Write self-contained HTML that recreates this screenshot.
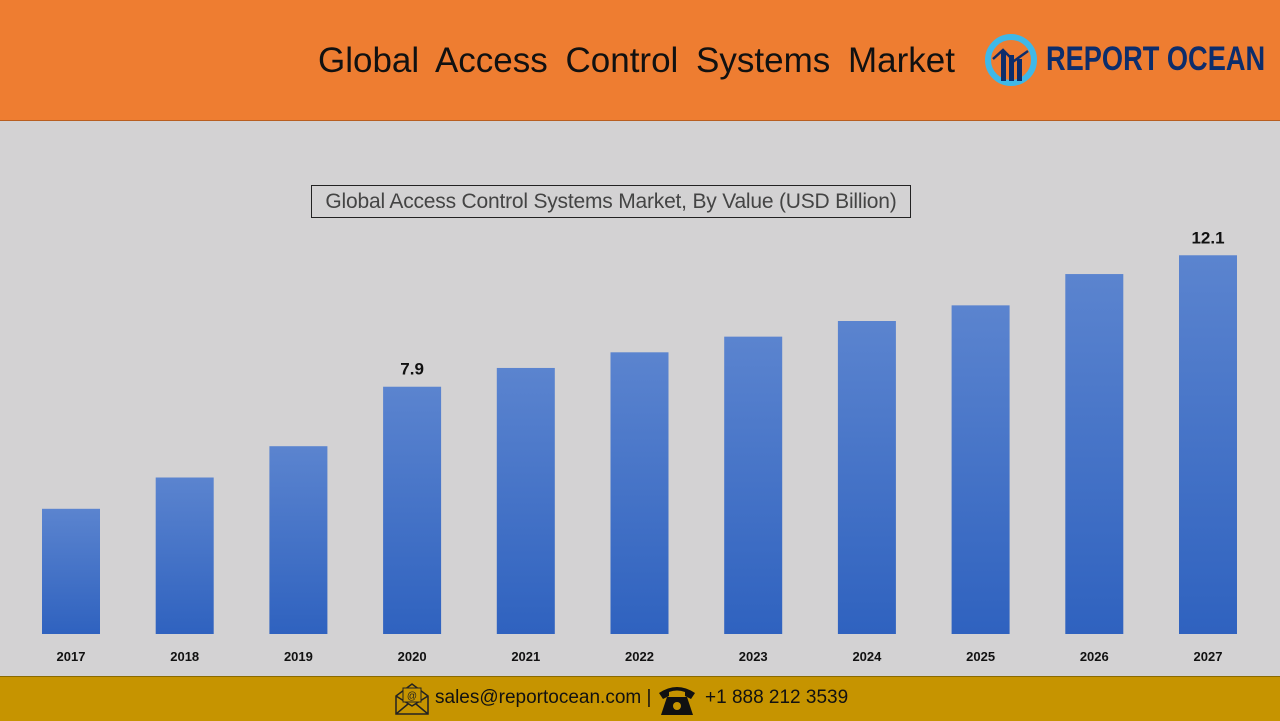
<!DOCTYPE html>
<html><head><meta charset="utf-8"><style>
body{margin:0;width:1280px;height:720px;overflow:hidden;background:#d3d2d3;font-family:"Liberation Sans",sans-serif;position:relative}
#hdr{position:absolute;left:0;top:0;width:1280px;height:120px;background:#ee7d31;border-bottom:1px solid #b85e20}
#title{position:absolute;left:318px;top:41px;font-size:35px;color:#111;word-spacing:8px;white-space:nowrap}
#brand{position:absolute;left:1046px;top:40px;font-size:34px;font-weight:bold;color:#0d2d6b;transform:scaleX(0.8);transform-origin:left;white-space:nowrap}
#ftr{position:absolute;left:0;top:676px;width:1280px;height:44px;background:#c69400;border-top:1px solid #8a6a00}
#ctitle{position:absolute;left:311px;top:185px;width:598px;height:31px;border:1px solid #222;font-size:21px;color:#444;line-height:31px;text-align:center;white-space:nowrap;letter-spacing:-0.2px}
</style></head><body>
<div id="hdr">
<div id="title">Global Access Control Systems Market</div>
<svg style="position:absolute;left:984px;top:33px" width="54" height="54"><circle cx="27" cy="27" r="23" fill="none" stroke="#3fb8e8" stroke-width="6"/><rect x="17" y="18" width="5" height="30" fill="#0d2d6b"/><rect x="25" y="22" width="5" height="26" fill="#0d2d6b"/><rect x="33" y="26" width="5" height="22" fill="#0d2d6b"/><polyline points="9,26 19,17 30,28 44,18" fill="none" stroke="#0d2d6b" stroke-width="2.5"/></svg>
<div id="brand">REPORT OCEAN</div>
</div>
<div id="ctitle">Global Access Control Systems Market, By Value (USD Billion)</div>
<svg id="chart" style="position:absolute;left:0;top:0" width="1280" height="676">
<defs><linearGradient id="g" x1="0" y1="0" x2="0" y2="1"><stop offset="0" stop-color="#5b84cf"/><stop offset="1" stop-color="#2f62bf"/></linearGradient></defs>
</svg>
<div id="ftr">
<svg style="position:absolute;left:394px;top:3px" width="36" height="36"><path d="M2,16 L18,4 L34,16 L34,34 L2,34 Z M2,16 L18,26 L34,16 M2,34 L14,24 M34,34 L22,24" fill="none" stroke="#222" stroke-width="1.5"/><rect x="9" y="8" width="18" height="14" fill="#c69400" stroke="#222"/><text x="18" y="19" font-size="10" text-anchor="middle" fill="#222">@</text></svg>
<div style="position:absolute;left:435px;top:10px;font-size:19px;color:#111">sales@reportocean.com |</div>
<svg style="position:absolute;left:657px;top:6px" width="40" height="34"><path d="M2,10 Q20,-2 38,10 L34,16 L28,13 L28,9 Q20,6 12,9 L12,13 L6,16 Z" fill="#111"/><path d="M10,14 L30,14 L36,32 L4,32 Z" fill="#111"/><circle cx="20" cy="23" r="4" fill="#c69400"/></svg>
<div style="position:absolute;left:705px;top:10px;font-size:19px;color:#111">+1 888 212 3539</div>
</div>
<script>
const years=["2017","2018","2019","2020","2021","2022","2023","2024","2025","2026","2027"];
const values=[4.0,5.0,6.0,7.9,8.5,9.0,9.5,10.0,10.5,11.5,12.1];
const labels=["","","","7.9","","","","","","","12.1"];
const svg=document.getElementById('chart'),NS='http://www.w3.org/2000/svg';
const base=634,scale=31.3,x0=71,step=113.7,bw=58;
const xS=i=>x0+i*step, yS=v=>base-v*scale;
years.forEach((yr,i)=>{
 const r=document.createElementNS(NS,'rect');
 r.setAttribute('x',xS(i)-bw/2);r.setAttribute('y',yS(values[i]));
 r.setAttribute('width',bw);r.setAttribute('height',base-yS(values[i]));r.setAttribute('fill','url(#g)');
 
 
 svg.appendChild(r);
 const t=document.createElementNS(NS,'text');
 t.setAttribute('x',xS(i));t.setAttribute('y',661);t.setAttribute('text-anchor','middle');
 t.setAttribute('font-size','13');t.setAttribute('font-weight','bold');t.setAttribute('fill','#111');
 t.textContent=yr;
 
 
 svg.appendChild(t);
 if(labels[i]){
  const v=document.createElementNS(NS,'text');
  v.setAttribute('x',xS(i));v.setAttribute('y',yS(values[i])-12);v.setAttribute('text-anchor','middle');
  v.setAttribute('font-size','17');v.setAttribute('font-weight','bold');v.setAttribute('fill','#111');
  v.textContent=labels[i];
  
  
  svg.appendChild(v);
 }
});
</script>
</body></html>
